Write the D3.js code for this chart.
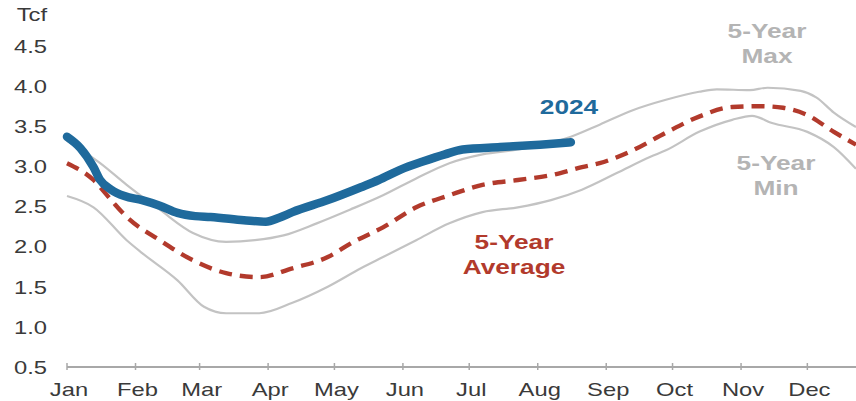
<!DOCTYPE html>
<html>
<head>
<meta charset="utf-8">
<script src="https://cdn.jsdelivr.net/npm/d3@7"></script>
<style>
  html, body { margin: 0; padding: 0; background: #fff; }
  svg { display: block; font-family: "Liberation Sans", Arial, sans-serif; }
</style>
</head>
<body>
<svg id="chart" width="856" height="401"></svg>
<script>
// Working gas in storage, Tcf — 2024 against the prior five-year range
const monthLabels = ["Jan","Feb","Mar","Apr","May","Jun","Jul","Aug","Sep","Oct","Nov","Dec"];
const yTicks = [0.5, 1.0, 1.5, 2.0, 2.5, 3.0, 3.5, 4.0, 4.5];

const dates2024 = ["01-01","01-07","01-13","01-16","01-21","01-27","02-04","02-12","02-20","02-28",
  "03-06","03-21","03-31","04-06","04-12","04-28","05-13","05-21","05-31","06-10","06-20","06-28",
  "07-15","07-21","08-02","08-16"];
const values2024 = [3.37,3.23,2.99,2.83,2.71,2.63,2.58,2.51,2.42,2.38,
  2.37,2.33,2.31,2.36,2.43,2.58,2.74,2.83,2.96,3.06,3.15,3.21,
  3.24,3.25,3.27,3.30];

const datesAvg = ["01-01","01-13","01-21","01-28","02-12","02-27","03-13","03-28","04-12","04-28",
  "05-09","05-23","06-07","06-22","07-07","07-23","08-07","08-21","08-29","09-13","09-28",
  "10-13","10-28","11-10","11-20","12-01","12-13","12-23"];
const valuesAvg = [3.04,2.83,2.58,2.37,2.08,1.83,1.67,1.62,1.73,1.87,
  2.05,2.24,2.49,2.64,2.77,2.83,2.89,2.99,3.04,3.20,3.42,
  3.62,3.74,3.75,3.73,3.64,3.43,3.27];

const datesMin = ["01-01","01-13","01-28","02-04","02-20","03-03","03-13","03-28","04-12","04-28",
  "05-13","05-23","06-07","06-22","07-07","07-23","08-07","08-21","09-06","09-21","09-28",
  "10-13","10-28","11-06","11-15","12-01","12-13","12-23"];
const valuesMin = [2.63,2.49,2.08,1.92,1.58,1.25,1.17,1.17,1.30,1.50,
  1.73,1.87,2.08,2.29,2.43,2.49,2.58,2.71,2.92,3.12,3.20,
  3.43,3.58,3.63,3.54,3.43,3.24,2.97];

const datesMax = ["01-01","01-16","01-28","02-12","02-27","03-13","03-26","04-08","04-23","05-08",
  "05-23","06-07","06-22","07-07","07-23","08-05","08-16","08-29","09-13","09-28","10-13","10-21",
  "11-05","11-13","11-28","12-05","12-13","12-23"];
const valuesMax = [3.32,3.04,2.77,2.46,2.17,2.06,2.08,2.14,2.29,2.46,
  2.64,2.85,3.04,3.15,3.21,3.28,3.37,3.52,3.70,3.83,3.93,3.96,
  3.95,3.98,3.94,3.86,3.67,3.49];

const parse = d3.timeParse("%Y-%m-%d");
const toSeries = (dates, values) => dates.map((d, i) => ({ date: parse("2024-" + d), value: values[i] }));

const svg = d3.select("#chart");
const x = d3.scaleTime()
  .domain([new Date(2024, 0, 1), new Date(2025, 0, 1)])
  .range([67, 67 + 366 * 2.21]);
const y = d3.scaleLinear().domain([0.5, 4.5]).range([367, 46]);

const textColor = "#3a3a3a";
const stretch = 1.25;

// y-axis labels (no gridlines)
const yAxis = svg.append("g").attr("class", "y-axis");
yAxis.selectAll("text")
  .data(yTicks)
  .join("text")
  .attr("transform", d => `translate(47,${y(d)}) scale(${stretch},1)`)
  .attr("dy", "0.36em")
  .attr("text-anchor", "end")
  .attr("font-size", 19)
  .attr("fill", textColor)
  .text(d => d.toFixed(1));

svg.append("text")
  .attr("transform", `translate(47,${y(4.5) - 32}) scale(${stretch},1)`)
  .attr("dy", "0.36em")
  .attr("text-anchor", "end")
  .attr("font-size", 19)
  .attr("fill", textColor)
  .text("Tcf");

// x axis: baseline with month ticks
const monthStarts = d3.timeMonth.range(new Date(2024, 0, 1), new Date(2025, 0, 1));
const xAxis = svg.append("g").attr("class", "x-axis");
xAxis.append("line")
  .attr("x1", x(monthStarts[0])).attr("x2", 856)
  .attr("y1", y(0.5)).attr("y2", y(0.5))
  .attr("stroke", "#a8a8a8").attr("stroke-width", 2);
xAxis.selectAll("line.tick")
  .data(monthStarts)
  .join("line")
  .attr("class", "tick")
  .attr("x1", d => x(d)).attr("x2", d => x(d))
  .attr("y1", y(0.5) - 4).attr("y2", y(0.5) + 3)
  .attr("stroke", "#a8a8a8").attr("stroke-width", 1.5);
xAxis.selectAll("text")
  .data(monthStarts)
  .join("text")
  .attr("transform", (d, i) => `translate(${x(d) + 2},396) scale(${stretch},1)`)
  .attr("text-anchor", "middle")
  .attr("font-size", 19)
  .attr("fill", textColor)
  .text((d, i) => monthLabels[i]);

// series lines
const line = d3.line()
  .x(d => x(d.date))
  .y(d => y(d.value))
  .curve(d3.curveMonotoneX);

const plot = svg.append("g");
plot.append("path")
  .datum(toSeries(datesMax, valuesMax))
  .attr("d", line)
  .attr("fill", "none").attr("stroke", "#c3c3c3").attr("stroke-width", 2.2);
plot.append("path")
  .datum(toSeries(datesMin, valuesMin))
  .attr("d", line)
  .attr("fill", "none").attr("stroke", "#c3c3c3").attr("stroke-width", 2.2);
plot.append("path")
  .datum(toSeries(datesAvg, valuesAvg))
  .attr("d", line)
  .attr("fill", "none").attr("stroke", "#b23a2c").attr("stroke-width", 4.4)
  .attr("stroke-dasharray", "13,8");
plot.append("path")
  .datum(toSeries(dates2024, values2024))
  .attr("d", line)
  .attr("fill", "none").attr("stroke", "#1f6a9c").attr("stroke-width", 8.5)
  .attr("stroke-linecap", "round").attr("stroke-linejoin", "round");

// series annotations
const labels = [
  { lines: ["2024"], x: 569, y: 114, color: "#1f6a9c" },
  { lines: ["5-Year", "Average"], x: 514, y: 249, color: "#b23a2c" },
  { lines: ["5-Year", "Max"], x: 767, y: 38, color: "#b4b4b4" },
  { lines: ["5-Year", "Min"], x: 776, y: 170, color: "#b4b4b4" }
];
labels.forEach(l => {
  l.lines.forEach((t, i) => {
    svg.append("text")
      .attr("transform", `translate(${l.x},${l.y + i * 25}) scale(${stretch},1)`)
      .attr("text-anchor", "middle")
      .attr("font-size", 21)
      .attr("font-weight", "bold")
      .attr("fill", l.color)
      .text(t);
  });
});
</script>
</body>
</html>
